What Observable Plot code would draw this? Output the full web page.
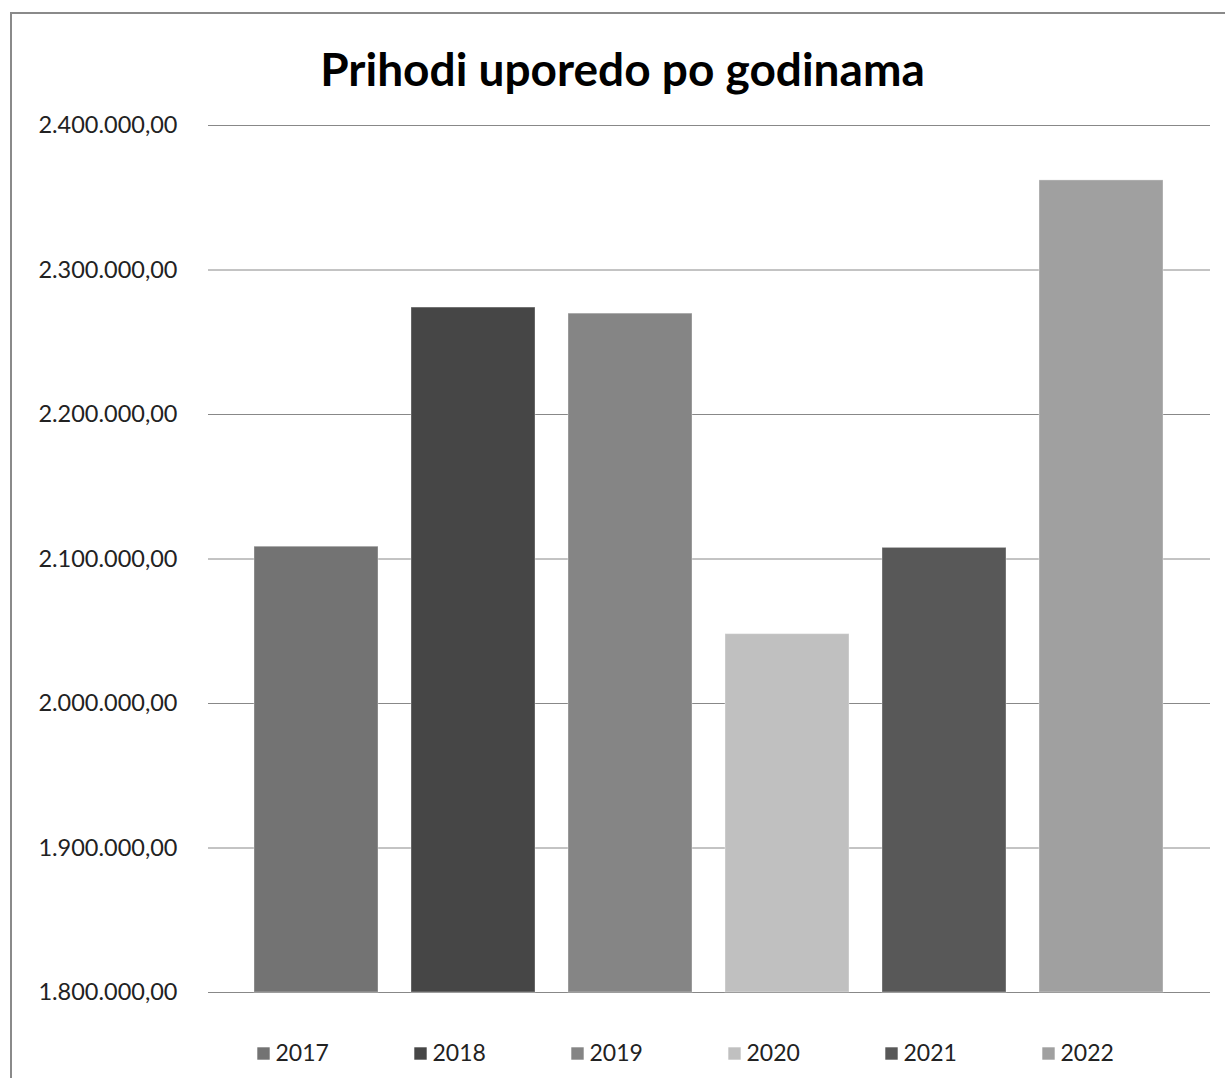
<!DOCTYPE html>
<html>
<head>
<meta charset="utf-8">
<script src="https://cdn.jsdelivr.net/npm/d3@7"></script>
<script src="https://cdn.jsdelivr.net/npm/@observablehq/plot@0.6"></script>
<style>
  html, body { margin: 0; padding: 0; background: #fff; overflow: hidden; }
  #frame { position: absolute; left: 10px; top: 12px; width: 1400px; height: 1200px; border: 2px solid #8a8a8a; box-sizing: border-box; }
  #title { position: absolute; left: 0; top: 0; width: 1225px; height: 110px; text-align: center; font-family: Lato, "Open Sans", sans-serif; font-weight: bold; font-size: 46px; line-height: 1; padding-top: 46px; box-sizing: border-box; color: #000; padding-left: 20px; }
  #chart { position: absolute; left: 0; top: 110px; }
</style>
</head>
<body>
<div id="frame"></div>
<div id="title">Prihodi uporedo po godinama</div>
<div id="chart"></div>
<script>
const years = ["2017", "2018", "2019", "2020", "2021", "2022"];
const values = [2108500, 2274000, 2269800, 2048000, 2107700, 2362000];
const colors = ["#737373", "#464646", "#858585", "#c0c0c0", "#585858", "#a0a0a0"];
const yTicks = [1800000, 1900000, 2000000, 2100000, 2200000, 2300000, 2400000];

const data = years.map((y, i) => ({year: y, value: values[i], color: colors[i]}));
const locale = d3.formatLocale({decimal: ",", thousands: ".", grouping: [3], currency: ["", ""]});
const fmt = locale.format(",.2f");

const W = 1225, H = 968;
const chart = Plot.plot({
  width: W,
  height: H,
  marginTop: 15,
  marginBottom: 86,
  marginLeft: 208,
  marginRight: 15,
  style: {fontFamily: "Lato, 'Open Sans', sans-serif", fontSize: "23px", color: "#222", background: "transparent", overflow: "visible"},
  x: {domain: years, paddingInner: 0.208, paddingOuter: 0.28, axis: null},
  y: {domain: [1800000, 2400000], ticks: yTicks, tickFormat: fmt, label: null},
  marks: [
    Plot.ruleY(yTicks, {stroke: "#888", strokeWidth: 1}),
    Plot.barY(data, {x: "year", y1: 1800000, y2: "value", fill: "color", stroke: "white", strokeOpacity: 0.35, strokeWidth: 1}),
    Plot.axisY({ticks: yTicks, tickFormat: fmt, tickSize: 0, tickPadding: 31, fontSize: 23.5, fill: "#222"}),
    Plot.dot(data, {x: "year", y: 1800000, symbol: "square", r: 7, fill: "color", dx: -53, dy: 61}),
    Plot.text(data, {x: "year", y: 1800000, text: "year", textAnchor: "start", dx: -41, dy: 61, fontSize: 23, fill: "#222", clip: false})
  ]
});
document.getElementById("chart").appendChild(chart);
</script>
</body>
</html>
